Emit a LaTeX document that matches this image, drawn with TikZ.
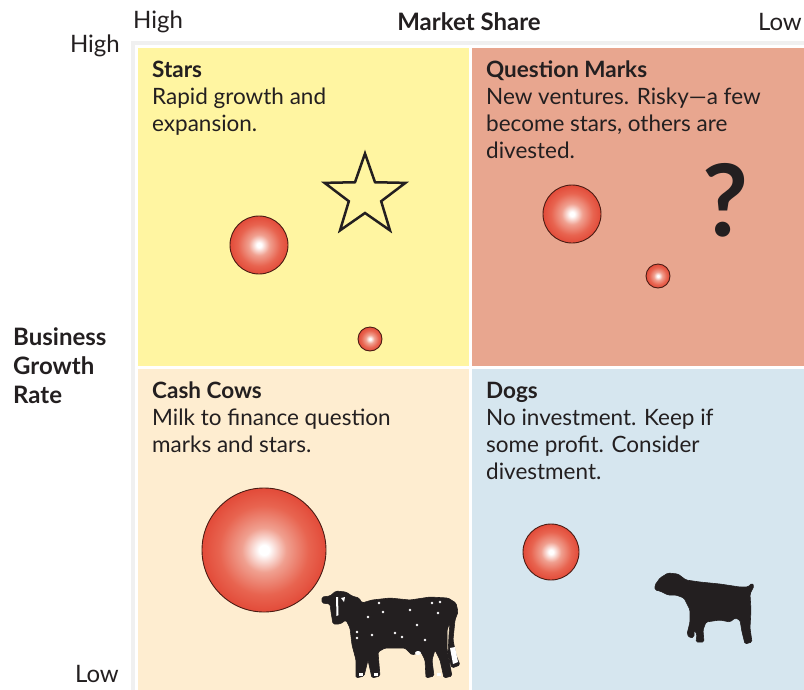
\documentclass[tikz,border=0pt]{standalone}
\usepackage{fontspec}
\setmainfont{Lato}
\usetikzlibrary{shapes.geometric, positioning}
\definecolor{cstar}{HTML}{FFF5A1}
\definecolor{cquest}{HTML}{E8A68F}
\definecolor{ccow}{HTML}{FEEDD0}
\definecolor{cdog}{HTML}{D6E6EF}
\definecolor{cink}{HTML}{231F20}
\definecolor{crim}{HTML}{4A1C14}
\definecolor{cpink}{HTML}{F0A090}
\definecolor{csalmon}{HTML}{E86450}
\definecolor{cred}{HTML}{E0402F}
\definecolor{cdeep}{HTML}{D63026}
\pgfdeclareradialshading{bubble}{\pgfpoint{0bp}{0bp}}{color(0bp)=(white); color(2bp)=(white); color(9bp)=(cpink); color(18bp)=(csalmon); color(28bp)=(cred); color(50bp)=(cdeep)}
\tikzset{
  every picture/.style={font=\fontsize{22.5}{27}\selectfont, text=cink},
  quad/.style={fill=#1, draw=white, line width=2.5pt, anchor=north west, inner sep=0pt},
  blurb/.style={anchor=north west, align=left, inner sep=0pt},
  axis/.style={font=\fontsize{24}{29}\selectfont, inner sep=0pt},
  bubble/.style={shading=bubble, draw=crim, line width=0.9pt},
  beast/.style={fill=cink, draw=cink, line width=0.6pt, line join=round, rounded corners=1.5pt},
  spot/.style={fill=white, draw=none},
}

\begin{document}
\begin{tikzpicture}[x=1pt, y=-1pt]
  \useasboundingbox (0,0) rectangle (804,689);
  % soft frame behind the grid
  \fill[gray!12] (131,41) rectangle (810,695);
  % quadrants
  \node (stars) [quad=cstar, minimum width=334pt, minimum height=321pt] at (135,45) {};
  \node (quest) [quad=cquest, minimum width=340pt, minimum height=321pt] at (469,45) {};
  \node (cows) [quad=ccow, minimum width=334pt, minimum height=330pt] at (135,366) {};
  \node (dogs) [quad=cdog, minimum width=340pt, minimum height=330pt] at (469,366) {};

  % axis labels
  \node (share) [axis, font=\fontsize{24}{29}\selectfont\bfseries] at (469,22) {Market Share};
  \node (shhi) [axis, anchor=west] at (133,22) {High};
  \node (shlo) [axis, anchor=east] at (802,22) {Low};
  \node (grhi) [axis, anchor=east] at (120,46) {High};
  \node (grlo) [axis, anchor=east] at (119,674) {Low};
  \node (growth) [axis, anchor=west, align=left, font=\fontsize{24}{29}\selectfont\bfseries] at (13,366) {Business\\Growth\\Rate};

  % quadrant texts
  \node (tstars) [blurb, below right=16pt and 17pt of stars.north west] {\textbf{Stars}\\Rapid growth and\\expansion.};
  \node (tquest) [blurb, below right=16pt and 17pt of quest.north west] {\textbf{Question Marks}\\New ventures. Risky—a few\\become stars, others are\\divested.};
  \node (tcows) [blurb, below right=16pt and 17pt of cows.north west] {\textbf{Cash Cows}\\Milk to finance question\\marks and stars.};
  \node (tdogs) [blurb, below right=16pt and 17pt of dogs.north west] {\textbf{Dogs}\\No investment. Keep if\\some profit. Consider\\divestment.};

  % symbols
  \node (star) [star, star points=5, star point ratio=2.5, minimum size=85pt, inner sep=0pt, draw=cink, line width=2.5pt] at (365,196) {};
  \node (qmark) [font=\fontsize{100}{100}\selectfont\bfseries, inner sep=0pt] at (725,200) {?};

  % bubbles
  \draw[bubble] (259,245) circle[radius=29];
  \draw[bubble] (370,339) circle[radius=12];
  \draw[bubble] (572,214) circle[radius=29];
  \draw[bubble] (658,276) circle[radius=12];
  \draw[bubble] (264,550) circle[radius=62];
  \draw[bubble] (551,552) circle[radius=28];

  % cow
  \draw[beast] (322,597) -- (330,596) -- (336,591) -- (346,592) -- (352,596) -- (359,598)
    -- (362,603) -- (372,600) -- (390,598) -- (410,600) -- (430,597) -- (448,598)
    -- (456,603) -- (458,612) -- (455,620) -- (453,640) -- (456,655) -- (460,665)
    -- (452,668) -- (448,655) -- (449,635) -- (450,622) -- (447,630) -- (447,650)
    -- (452,676) -- (444,678) -- (440,660) -- (435,650) -- (432,660) -- (434,676)
    -- (426,678) -- (425,660) -- (421,652) -- (412,655) -- (405,648) -- (385,648)
    -- (378,652) -- (380,676) -- (372,678) -- (368,660) -- (364,676) -- (356,678)
    -- (356,660) -- (352,645) -- (350,628) -- (346,620) -- (340,624) -- (333,624)
    -- (331,612) -- (330,604) -- (322,603) -- cycle;
  \fill[spot] (336,597) -- (338,597) -- (338.5,615) -- (336.5,616) -- cycle;
  \fill[spot] (341,598) -- (345,597) -- (344,602) -- cycle;
  \fill[spot] (450,648) -- (455,647) -- (458,662) -- (453,664) -- cycle;
  \foreach \sx/\sy in {379/603, 383/612, 368/617, 357/632, 357/638, 372/635,
      395/633, 402/637, 417/625, 432/603, 440/602, 438/613, 410/610, 425/640}
    \fill[spot] (\sx,\sy) circle[radius=1.3];
  \fill[spot] (418,653) ellipse[x radius=3, y radius=2];
  \fill[spot] (359,673) rectangle (363,676);
  \fill[spot] (374,673) rectangle (378,676);
  \fill[spot] (437,673) rectangle (441,676);

  % dog
  \draw[beast] (655,585) -- (660,578) -- (668,573) -- (678,574) -- (686,580) -- (700,582)
    -- (720,584) -- (740,587) -- (748,587) -- (752,583) -- (754,586) -- (750,594)
    -- (751,610) -- (750,628) -- (752,642) -- (745,644) -- (742,632) -- (740,620)
    -- (735,618) -- (730,622) -- (720,620) -- (706,622) -- (703,630) -- (704,642)
    -- (696,642) -- (697,634) -- (694,630) -- (694,637) -- (690,638) -- (687,634)
    -- (690,622) -- (690,610) -- (684,598) -- (676,595) -- (668,595) -- (660,591)
    -- (655,590) -- cycle;
\end{tikzpicture}
\end{document}
